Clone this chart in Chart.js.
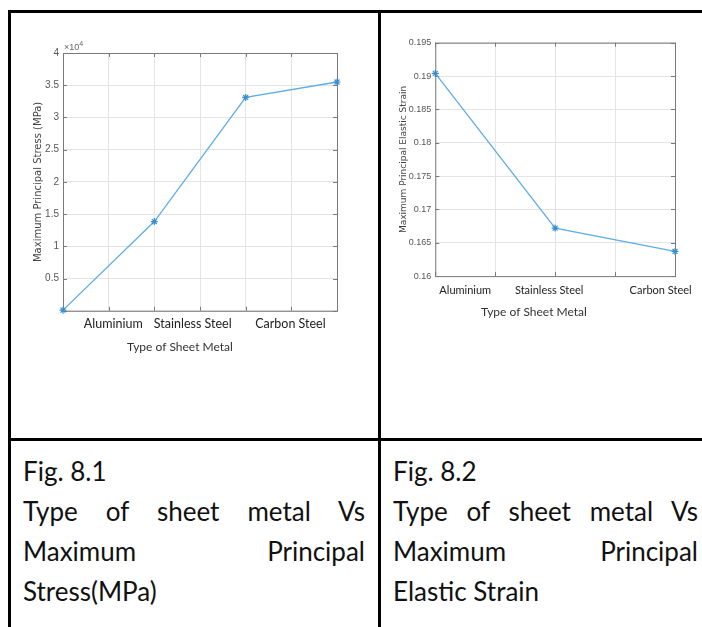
<!DOCTYPE html>
<html>
<head>
<meta charset="utf-8">
<script src="https://cdn.jsdelivr.net/npm/chart.js@4.4.1/dist/chart.umd.min.js"></script>
<style>
  body { margin: 0; background: #fff; width: 702px; height: 627px; overflow: hidden; position: relative; }
  .rule { position: absolute; background: #000; }
  canvas { position: absolute; }
  .caption { position: absolute; font-family: Lato, sans-serif; font-size: 26px; line-height: 40px; color: #111; }
  .caption div { white-space: nowrap; height: 40px; }
  .caption .just { white-space: normal; text-align: justify; text-align-last: justify; }
</style>
</head>
<body>
<div class="rule" style="left:8px;top:10px;width:694px;height:3px"></div>
<div class="rule" style="left:8px;top:10px;width:3px;height:617px"></div>
<div class="rule" style="left:378px;top:10px;width:3px;height:617px"></div>
<div class="rule" style="left:8px;top:438px;width:694px;height:3px"></div>

<canvas id="stressChart" width="353" height="340" style="left:23px;top:14px;width:353px;height:340px"></canvas>
<canvas id="strainChart" width="309" height="305" style="left:393px;top:14px;width:309px;height:305px"></canvas>

<div class="caption" style="left:23px;top:451px;width:342px">
  <div>Fig. 8.1</div>
  <div class="just">Type of sheet metal Vs</div>
  <div class="just">Maximum Principal</div>
  <div>Stress(MPa)</div>
</div>
<div class="caption" style="left:393px;top:451px;width:305px">
  <div>Fig. 8.2</div>
  <div class="just">Type of sheet metal Vs</div>
  <div class="just">Maximum Principal</div>
  <div>Elastic Strain</div>
</div>

<script>
const metalNames = ['Aluminium', 'Stainless Steel', 'Carbon Steel'];

// Fig. 8.1 - max principal stress (MPa)
const stressX = [1, 2, 3, 4];
const stressY = [100, 13850, 33100, 35500];
const stressLabelAt = [1.55, 2.42, 3.49];

// Fig. 8.2 - max principal elastic strain
const strainX = [1, 2, 3];
const strainY = [0.1904, 0.1672, 0.1637];
const strainLabelAt = [1.25, 1.95, 2.88];

const gridColor = '#e4e4e4';
const lineColor = '#5eaee3';
const markColor = '#3b8fd0';

// matlab style box with inward ticks, plus the x10^n note
const matlabBox = {
    id: 'matlabBox',
    beforeDatasetsDraw(chart, args, opts) {
        const { ctx, chartArea: a, scales } = chart;
        const len = 4;
        ctx.save();
        ctx.strokeStyle = '#7a7a7a';
        ctx.lineWidth = 1;
        ctx.strokeRect(a.left + 0.5, a.top + 0.5, a.right - a.left, a.bottom - a.top);
        ctx.beginPath();
        scales.x.ticks.forEach(t => {
            const px = Math.round(scales.x.getPixelForValue(t.value)) + 0.5;
            ctx.moveTo(px, a.bottom); ctx.lineTo(px, a.bottom - len);
            ctx.moveTo(px, a.top); ctx.lineTo(px, a.top + len);
        });
        scales.y.ticks.forEach(t => {
            const py = Math.round(scales.y.getPixelForValue(t.value)) + 0.5;
            ctx.moveTo(a.left, py); ctx.lineTo(a.left + len, py);
            ctx.moveTo(a.right, py); ctx.lineTo(a.right - len, py);
        });
        ctx.stroke();
        if (opts.exponent) {
            ctx.fillStyle = '#666';
            ctx.textBaseline = 'alphabetic';
            ctx.font = '9px "Liberation Sans"';
            ctx.fillText('\u00d710', a.left + 1, a.top - 3);
            const w = ctx.measureText('\u00d710').width;
            ctx.font = '7px "Liberation Sans"';
            ctx.fillText(opts.exponent, a.left + 1 + w, a.top - 7);
        }
        ctx.restore();
    }
};

function makeChart(id, cfg) {
    return new Chart(document.getElementById(id), {
        type: 'line',
        data: {
            datasets: [{
                data: cfg.xs.map((x, i) => ({ x: x, y: cfg.ys[i] })),
                borderColor: lineColor,
                borderWidth: 1.3,
                pointStyle: 'star',
                pointRadius: 3.5,
                pointBorderColor: markColor,
                pointBorderWidth: 1.2,
                tension: 0,
                clip: false
            }]
        },
        options: {
            responsive: false,
            animation: false,
            layout: { padding: cfg.padding },
            plugins: {
                legend: { display: false },
                tooltip: { enabled: false },
                title: {
                    display: true,
                    position: 'bottom',
                    text: 'Type of Sheet Metal',
                    color: '#333',
                    font: { family: 'Lato', size: 12, weight: 'normal' },
                    padding: 0
                },
                matlabBox: { exponent: cfg.exponent }
            },
            scales: {
                x: {
                    type: 'linear',
                    min: cfg.xMin,
                    max: cfg.xMax,
                    ticks: { display: false, stepSize: 0.5 },
                    grid: { color: gridColor, drawTicks: false },
                    border: { display: false },
                    afterFit: s => { s.height = 0; }
                },
                xl: {
                    type: 'linear',
                    position: 'bottom',
                    min: cfg.xMin,
                    max: cfg.xMax,
                    grid: { display: false, drawTicks: false },
                    border: { display: false },
                    afterBuildTicks: s => { s.ticks = cfg.labelAt.map(v => ({ value: v })); },
                    ticks: {
                        autoSkip: false,
                        maxRotation: 0,
                        padding: cfg.labelPad,
                        color: '#222',
                        font: { family: 'Lato', size: cfg.labelSize },
                        callback: (v, i) => metalNames[i]
                    },
                    afterFit: s => { s.height = cfg.labelBand; }
                },
                y: {
                    min: cfg.yMin,
                    max: cfg.yMax,
                    ticks: {
                        stepSize: cfg.yStep,
                        padding: 4,
                        color: '#555',
                        font: { family: 'Liberation Sans', size: cfg.yTickSize },
                        callback: cfg.yFormat
                    },
                    grid: { color: gridColor, drawTicks: false },
                    border: { display: false },
                    title: {
                        display: true,
                        text: cfg.yTitle,
                        color: '#444',
                        font: { family: 'DejaVu Sans', size: cfg.yTitleSize },
                        padding: { top: cfg.yTitlePad, bottom: 0 }
                    },
                    afterFit: s => { s.width = cfg.yWidth; }
                }
            }
        },
        plugins: [matlabBox]
    });
}

makeChart('stressChart', {
    xs: stressX, ys: stressY, labelAt: stressLabelAt,
    xMin: 1, xMax: 4,
    yMin: 0, yMax: 40000, yStep: 5000,
    yFormat: v => v === 0 ? '' : String(v / 10000),
    yTitle: 'Maximum Principal Stress (MPa)',
    yTitleSize: 10, yTitlePad: 9, yTickSize: 10, yWidth: 40,
    labelSize: 12.5, labelPad: 5.5, labelBand: 28.8,
    padding: { top: 39, right: 39, bottom: 0, left: 0 },
    exponent: '4'
});

makeChart('strainChart', {
    xs: strainX, ys: strainY, labelAt: strainLabelAt,
    xMin: 1, xMax: 3,
    yMin: 0.16, yMax: 0.195, yStep: 0.005,
    yFormat: v => String(parseFloat(v.toFixed(3))),
    yTitle: 'Maximum Principal Elastic Strain',
    yTitleSize: 9, yTitlePad: 5.6, yTickSize: 9, yWidth: 42.3,
    labelSize: 11, labelPad: 8.1, labelBand: 28.5,
    padding: { top: 28.7, right: 27, bottom: 0, left: 0 },
    exponent: null
});
</script>
</body>
</html>
